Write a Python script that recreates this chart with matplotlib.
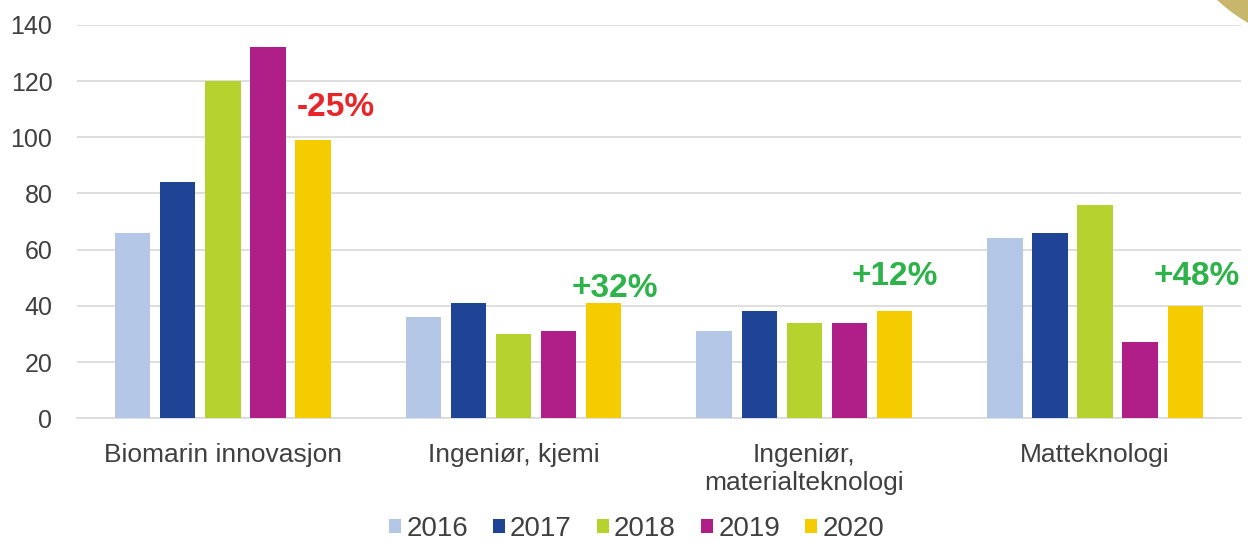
import matplotlib
matplotlib.use("Agg")
import matplotlib.pyplot as plt
import numpy as np
from matplotlib.patches import Circle

categories = ["Biomarin innovasjon", "Ingeniør, kjemi", "Ingeniør,\nmaterialteknologi", "Matteknologi"]
years = ["2016", "2017", "2018", "2019", "2020"]
v2016 = [66, 36, 31, 64]
v2017 = [84, 41, 38, 66]
v2018 = [120, 30, 34, 76]
v2019 = [132, 31, 34, 27]
v2020 = [99, 41, 38, 40]
changes = ["-25%", "+32%", "+12%", "+48%"]
change_colors = ["#E8262A", "#2DB34A", "#2DB34A", "#2DB34A"]
yticks = [0, 20, 40, 60, 80, 100, 120, 140]

series = [v2016, v2017, v2018, v2019, v2020]
colors = ["#B4C7E7", "#1F4496", "#B5D22E", "#B01E87", "#F5CC00"]

# annotation placement (offsets from the 2020 bar), layout only
label_dx = [0.08, 0.04, 0.0, 0.04]
label_dy = [8.5, 2.0, 9.5, 7.5]

plt.rcParams['font.family'] = ['Liberation Sans', 'DejaVu Sans']

fig = plt.figure(figsize=(12.48, 5.41), dpi=100)
ax = fig.add_axes([0.062, 0.227, 0.932, 0.727])

x = np.arange(len(categories))
step = 0.155
width = 0.122
for i, (vals, c, lab) in enumerate(zip(series, colors, years)):
    ax.bar(x + (i - 2) * step, vals, width, color=c, label=lab, zorder=3)

for xi, txt, col, v, dx, dy in zip(x, changes, change_colors, v2020, label_dx, label_dy):
    ax.text(xi + 2 * step + dx, v + dy, txt, color=col, fontsize=24,
            fontweight='bold', ha='center', va='baseline', zorder=4)

ax.set_ylim(0, 140)
ax.set_xlim(-0.5, 3.5)
ax.set_yticks(yticks)
ax.yaxis.grid(True, color="#D9D9D9", linewidth=1.2, zorder=0)
ax.set_axisbelow(True)
for s in ["top", "right", "left"]:
    ax.spines[s].set_visible(False)
ax.spines["bottom"].set_color("#D9D9D9")
ax.spines["bottom"].set_linewidth(1.2)
ax.tick_params(axis='y', length=0, pad=18, labelsize=18, labelcolor="#404040")
ax.tick_params(axis='x', length=0, pad=18, labelsize=19, labelcolor="#404040")
ax.set_xticks(x)
ax.set_xticklabels(categories, linespacing=1.22)

leg = fig.legend(loc='center', bbox_to_anchor=(0.5100, 0.022), ncol=5, frameon=False,
                 fontsize=20, handlelength=0.42, handleheight=0.42, handletextpad=0.2,
                 columnspacing=0.9, labelcolor="#404040", borderaxespad=0, borderpad=0)

circ = Circle((13.30, 6.61), 1.64, transform=fig.dpi_scale_trans, color="#C8B66A", clip_on=False)
fig.patches.append(circ)

fig.savefig("out.png", dpi=100, facecolor="white")
